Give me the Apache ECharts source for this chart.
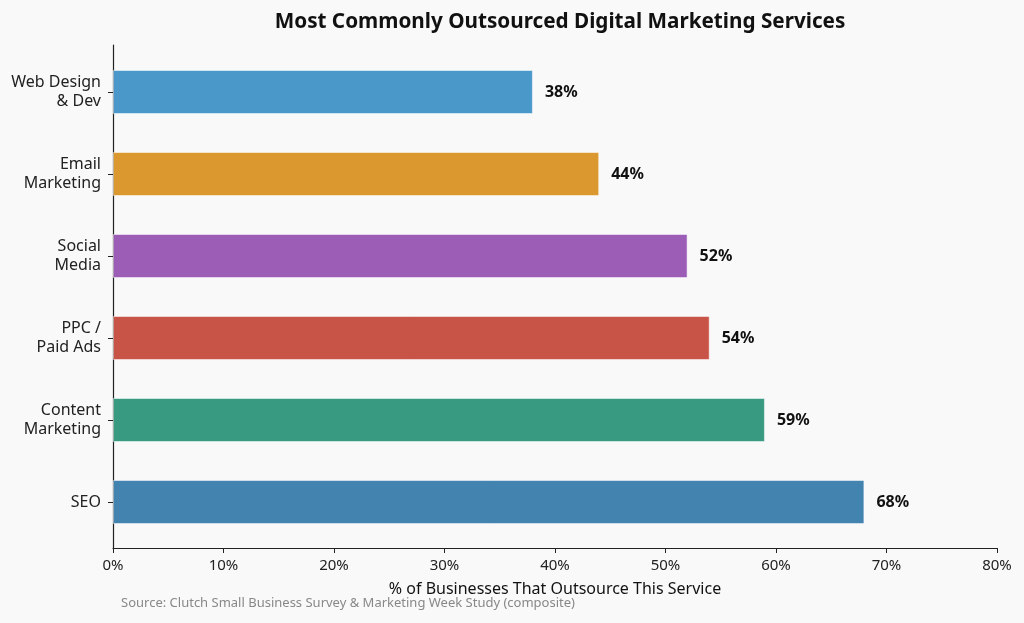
<!DOCTYPE html>
<html>
<head>
<meta charset="utf-8">
<script src="https://cdn.jsdelivr.net/npm/echarts@6/dist/echarts.min.js"></script>
<style>
  html, body { margin: 0; padding: 0; background: #f9f9f9; }
  #chart { width: 1024px; height: 623px; }
</style>
</head>
<body>
<div id="chart"></div>
<script>
// categories bottom -> top, same order as the axis draws them
var services = ['SEO', 'Content\nMarketing', 'PPC /\nPaid Ads', 'Social\nMedia', 'Email\nMarketing', 'Web Design\n& Dev'];
var shares = [68, 59, 54, 52, 44, 38];
var barColors = ['#4283b0', '#389a80', '#c85448', '#9c5db7', '#da982f', '#4a97c9'];

var font = '"Noto Sans", "Open Sans", sans-serif';
var chart = echarts.init(document.getElementById('chart'));

// grid 0 holds the bars, grid 1 is a slightly taller frame carrying the
// visible axis lines (the reference has some padding above/below the rows)
chart.setOption({
  backgroundColor: '#f9f9f9',
  animation: false,
  textStyle: { fontFamily: font },
  title: {
    text: 'Most Commonly Outsourced Digital Marketing Services',
    left: 555,
    textAlign: 'center',
    top: 7,
    textStyle: { fontFamily: font, fontSize: 20.7, fontWeight: 'bold', color: '#111' }
  },
  graphic: [{
    type: 'text',
    left: 121,
    top: 597,
    style: {
      text: 'Source: Clutch Small Business Survey & Marketing Week Study (composite)',
      font: '13px ' + font,
      fill: '#888'
    }
  }],
  grid: [
    { left: 113, right: 27, top: 51, height: 492 },
    { left: 113, right: 27, top: 45, height: 503 }
  ],
  xAxis: [{
    gridIndex: 0,
    type: 'value',
    min: 0,
    max: 80,
    show: false
  }, {
    gridIndex: 1,
    type: 'value',
    min: 0,
    max: 80,
    interval: 10,
    name: '% of Businesses That Outsource This Service',
    nameLocation: 'middle',
    nameGap: 33,
    nameTextStyle: { fontSize: 16, color: '#111' },
    axisLine: { show: true, lineStyle: { color: '#222', width: 1.2 } },
    axisTick: { show: true, length: 5, lineStyle: { color: '#222' } },
    axisLabel: { formatter: '{value}%', fontSize: 15, color: '#222', margin: 10 },
    splitLine: { show: false }
  }],
  yAxis: [{
    gridIndex: 0,
    type: 'category',
    data: services,
    axisLine: { show: false },
    axisTick: { show: true, alignWithLabel: true, length: 5, lineStyle: { color: '#222' } },
    axisLabel: { fontSize: 16, color: '#222', lineHeight: 19, margin: 12, align: 'right' }
  }, {
    gridIndex: 1,
    type: 'value',
    min: 0,
    max: 1,
    axisLine: { show: true, onZero: false, lineStyle: { color: '#222', width: 1.2 } },
    axisTick: { show: false },
    axisLabel: { show: false },
    splitLine: { show: false }
  }],
  series: [{
    type: 'bar',
    xAxisIndex: 0,
    yAxisIndex: 0,
    barWidth: 44,
    data: shares.map(function (v, i) {
      return { value: v, itemStyle: { color: barColors[i] } };
    }),
    itemStyle: { borderColor: 'rgba(255,255,255,0.5)', borderWidth: 1 },
    label: {
      show: true,
      position: 'right',
      distance: 12,
      formatter: '{c}%',
      fontSize: 16,
      fontWeight: 'bold',
      color: '#111'
    }
  }]
});
</script>
</body>
</html>
